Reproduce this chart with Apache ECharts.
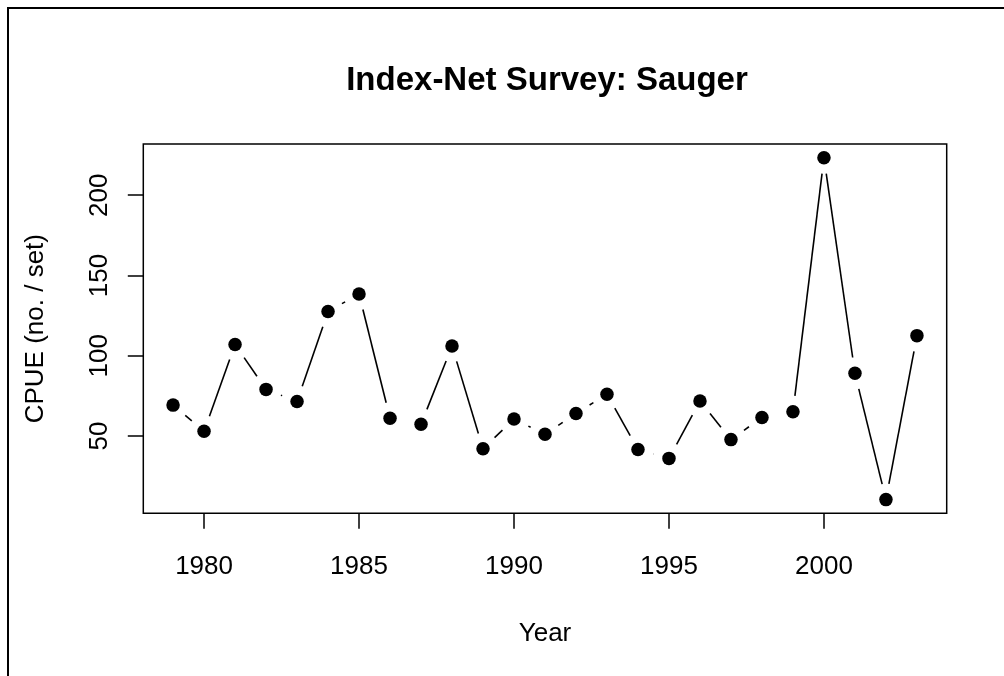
<!DOCTYPE html>
<html>
<head>
<meta charset="utf-8">
<script src="https://cdn.jsdelivr.net/npm/echarts@6/dist/echarts.min.js"></script>
<style>
  html, body { margin: 0; padding: 0; background: #fff; }
  #chart { width: 1004px; height: 676px; }
</style>
</head>
<body>
<div id="chart"></div>
<script>
"use strict"
// 数据
const years = [1979, 1980, 1981, 1982, 1983, 1984, 1985, 1986, 1987, 1988, 1989, 1990,
    1991, 1992, 1993, 1994, 1995, 1996, 1997, 1998, 1999, 2000, 2001, 2002, 2003];
const cpue = [69.2, 52.9, 107, 79, 71.5, 127.5, 138.5, 61, 57.3, 106, 42, 60.5,
    51, 64, 76, 41.5, 36, 71.7, 47.7, 61.5, 65, 223.4, 89, 10.3, 112.5];
const xTicks = [1980, 1985, 1990, 1995, 2000];
const yTicks = [50, 100, 150, 200];

const font = 'Liberation Sans, Arial, Helvetica, sans-serif';
const gap = 16;   // type = "b" : line stops short of each point

// R style axis range: data range + 4% each side
function pad(arr) {
    let lo = Math.min.apply(null, arr), hi = Math.max.apply(null, arr);
    let d = (hi - lo) * 0.04;
    return [lo - d, hi + d];
}
let xr = pad(years);
let yr = pad(cpue);

let points = years.map(function (y, i) { return [y, cpue[i]]; });
let segs = [];
for (let i = 0; i < years.length - 1; i++) {
    segs.push([years[i], cpue[i], years[i + 1], cpue[i + 1]]);
}

let chart = echarts.init(document.getElementById('chart'));
chart.setOption({
    animation: false,
    backgroundColor: '#fff',
    title: {
        text: 'Index-Net Survey: Sauger',
        left: 542,
        textAlign: 'center',
        top: 59,
        textStyle: { fontFamily: font, fontSize: 33, fontWeight: 'bold', color: '#000' }
    },
    grid: {
        left: 143.3, right: 57.3, top: 144, bottom: 162.7,
        show: true, borderColor: '#000', borderWidth: 1.5,
        containLabel: false, outerBoundsMode: 'none'
    },
    xAxis: {
        type: 'value',
        min: xr[0], max: xr[1],
        name: 'Year',
        nameLocation: 'middle',
        nameGap: 108,
        nameTextStyle: { fontFamily: font, fontSize: 26, color: '#000' },
        axisLine: { show: false },
        splitLine: { show: false },
        axisTick: { show: true, customValues: xTicks, length: 15.5, lineStyle: { color: '#000', width: 1.5 } },
        axisLabel: {
            customValues: xTicks, margin: 41, fontFamily: font, fontSize: 26, color: '#000',
            formatter: function (v) { return String(v); }
        }
    },
    yAxis: {
        type: 'value',
        min: yr[0], max: yr[1],
        name: 'CPUE (no. / set)',
        nameLocation: 'middle',
        nameGap: 94,
        nameTextStyle: { fontFamily: font, fontSize: 26, color: '#000' },
        axisLine: { show: false },
        splitLine: { show: false },
        axisTick: { show: true, customValues: yTicks, length: 15.5, lineStyle: { color: '#000', width: 1.5 } },
        axisLabel: {
            customValues: yTicks, rotate: 90, margin: 30, fontFamily: font, fontSize: 26, color: '#000',
            formatter: function (v) { return String(v); }
        }
    },
    graphic: [{
        type: 'rect',
        shape: { x: 8, y: 8, width: 1200, height: 1000 },
        style: { fill: 'none', stroke: '#000', lineWidth: 2 },
        silent: true
    }],
    series: [{
        type: 'custom',
        data: segs,
        encode: { x: [0, 2], y: [1, 3] },
        silent: true,
        renderItem: function (params, api) {
            let p1 = api.coord([api.value(0), api.value(1)]);
            let p2 = api.coord([api.value(2), api.value(3)]);
            let dx = p2[0] - p1[0], dy = p2[1] - p1[1];
            let len = Math.sqrt(dx * dx + dy * dy);
            if (len <= 2 * gap) return;
            let ux = dx / len, uy = dy / len;
            return {
                type: 'line',
                shape: { x1: p1[0] + ux * gap, y1: p1[1] + uy * gap, x2: p2[0] - ux * gap, y2: p2[1] - uy * gap },
                style: { stroke: '#000', lineWidth: 1.6 }
            };
        }
    }, {
        type: 'scatter',
        data: points,
        symbol: 'circle',
        symbolSize: 13.5,
        itemStyle: { color: '#000', opacity: 1 },
        silent: true
    }]
});
</script>
</body>
</html>
